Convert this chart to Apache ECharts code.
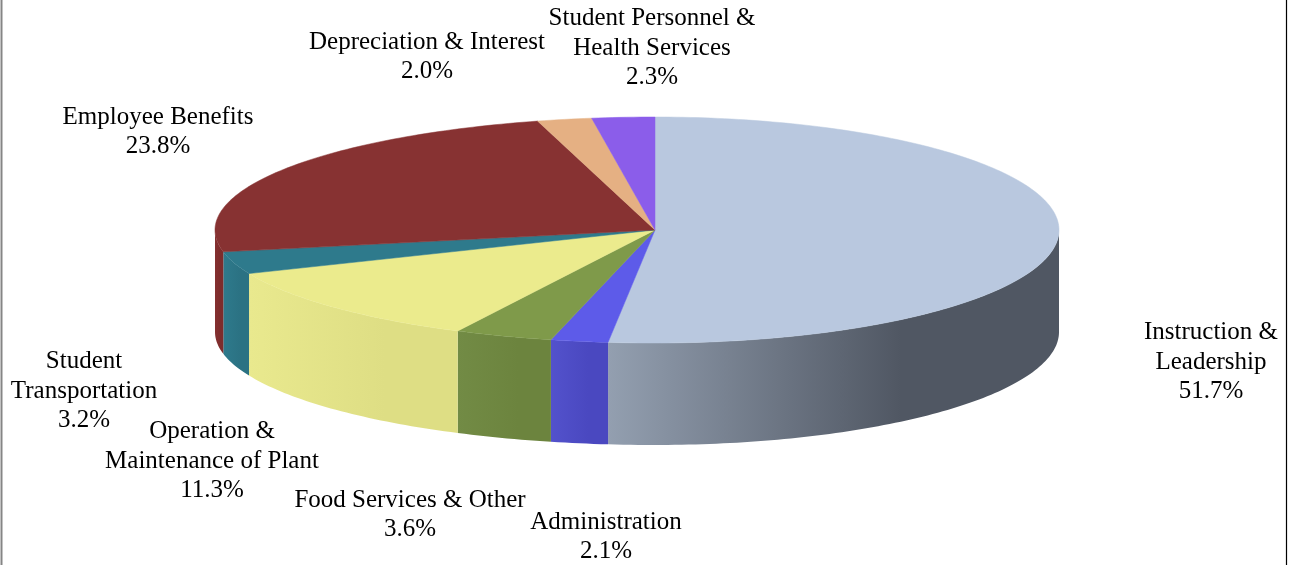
<!DOCTYPE html>
<html>
<head>
<meta charset="utf-8">
<script src="https://cdn.jsdelivr.net/npm/echarts@6/dist/echarts.min.js"></script>
<style>
  html, body { margin: 0; padding: 0; background: #fff; }
  #chart-container { width: 1292px; height: 565px; }
</style>
</head>
<body>
<div id="chart-container"></div>
<script>
// slices, clockwise from 12 o'clock
const categories = [
  'Instruction &\nLeadership',
  'Administration',
  'Food Services & Other',
  'Operation &\nMaintenance of Plant',
  'Student\nTransportation',
  'Employee Benefits',
  'Depreciation & Interest',
  'Student Personnel &\nHealth Services'
];
const shares = [51.7, 2.1, 3.6, 11.3, 3.2, 23.8, 2.0, 2.3];

// colours: top face, side light, side dark
const topColors = ['#b9c8df', '#5d5be9', '#7f9a4a', '#ebeb8d', '#2e7a8c', '#873232', '#e5b083', '#8b5dea'];
const sideLight = ['#939fb0', '#5352cc', '#728b45', '#e9e98e', '#2e7a8c', '#843030', '#e5b083', '#8b5dea'];
const sideDark  = ['#505763', '#4a48c0', '#6c843e', '#dede84', '#2b7283', '#7d2c2c', '#e5b083', '#8b5dea'];

// label anchor (centre of the text block)
const labelPos = [
  [1211, 362], [606, 537], [410, 515], [212, 461],
  [84, 391], [158, 132], [427, 57], [652, 48]
];

const doc = document.documentElement;
const font_size = 25;
const line_h = 29.5;

// pie geometry (screen px)
const pie = { cx: 655, cy: 230, rxL: 440, rxR: 404, ry: 113, depth: 102 };

function pt(deg, dy) {
  const t = deg * Math.PI / 180;
  const s = Math.sin(t), c = Math.cos(t);
  return [pie.cx + (s < 0 ? pie.rxL : pie.rxR) * s, pie.cy - pie.ry * c + (dy || 0)];
}

function arc(a, b, dy) {
  const pts = [];
  const n = Math.max(2, Math.ceil(Math.abs(b - a)));
  for (let i = 0; i <= n; i++) {
    pts.push(pt(a + (b - a) * i / n, dy));
  }
  return pts;
}

function renderSlice(params, api) {
  const idx = params.dataIndex;
  const total = shares.reduce((s, v) => s + v, 0);
  let before = 0;
  for (let i = 0; i < idx; i++) before += shares[i];
  const a = before / total * 360;
  const b = (before + api.value(0)) / total * 360;

  const children = [];

  // front wall, only the part facing the viewer
  const sa = Math.max(a, 90), sb = Math.min(b, 270);
  if (sb > sa) {
    const upper = arc(sa, sb, 0);
    const lower = arc(sb, sa, pie.depth);
    children.push({
      type: 'polygon',
      z2: 1,
      shape: { points: upper.concat(lower) },
      style: {
        fill: {
          type: 'linear', x: 0, y: 0, x2: 1, y2: 0,
          colorStops: [
            { offset: 0, color: sideLight[idx] },
            { offset: 0.65, color: sideDark[idx] },
            { offset: 1, color: sideDark[idx] }
          ]
        }
      }
    });
  }

  // top face
  children.push({
    type: 'polygon',
    z2: 2,
    shape: { points: [[pie.cx, pie.cy]].concat(arc(a, b, 0)) },
    style: { fill: topColors[idx], stroke: topColors[idx], lineWidth: 0.5 }
  });

  // label
  const [lx, ly] = labelPos[idx];
  children.push({
    type: 'text',
    z2: 3,
    x: lx,
    y: ly,
    style: {
      text: categories[idx] + '\n' + api.value(0).toFixed(1) + '%',
      fontFamily: '"Liberation Serif", "Times New Roman", serif',
      fontSize: font_size,
      lineHeight: line_h,
      fill: '#000',
      align: 'center',
      verticalAlign: 'middle'
    }
  });

  return { type: 'group', children: children };
}

const chart = echarts.init(document.getElementById('chart-container'), null, { renderer: 'canvas' });

chart.setOption({
  animation: false,
  backgroundColor: '#ffffff',
  graphic: [
    { type: 'line', shape: { x1: 1.5, y1: 0, x2: 1.5, y2: 565 }, style: { stroke: '#858585', lineWidth: 2 } },
    { type: 'line', shape: { x1: 1286.5, y1: 0, x2: 1286.5, y2: 565 }, style: { stroke: '#000000', lineWidth: 1.2 } }
  ],
  series: [
    {
      type: 'custom',
      coordinateSystem: 'none',
      renderItem: renderSlice,
      data: shares.map((v, i) => ({ name: categories[i], value: [v] }))
    }
  ]
});
</script>
</body>
</html>
